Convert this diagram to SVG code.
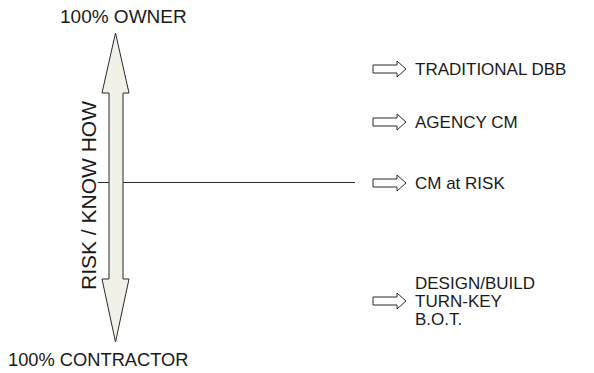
<svg xmlns="http://www.w3.org/2000/svg" width="594" height="373" viewBox="0 0 594 373">
<style>
text{font-family:"Liberation Sans",Arial,sans-serif;font-size:17px;fill:#1a1a1a}
.big{fill:#f1f1e8;stroke:#2a2a2a;stroke-width:1}
.sm{fill:#fff;stroke:#2a2a2a;stroke-width:1}
.ln{stroke:#2a2a2a;stroke-width:1.2;fill:none}
</style>
<defs>
<path id="harrow" d="M0,-4 H24 V-8 L33,0 L24,8 V4 H0 Z"/>
</defs>
<g id="connectors">
<line class="ln" x1="98" y1="182.5" x2="355" y2="182.5"/>
</g>
<g id="scale-arrow">
<polygon class="big" points="115.5,33 129,93 123,93 123,279 129,279 115.5,342 102,279 109,279 109,93 102,93"/>
</g>
<g id="label-owner"><text x="60" y="23" style="font-size:19px">100% OWNER</text></g>
<g id="label-contractor"><text x="8" y="366" style="font-size:18.3px">100% CONTRACTOR</text></g>
<g id="label-risk"><text transform="translate(96,290) rotate(-90)" style="font-size:21px">RISK / KNOW HOW</text></g>
<g id="node-dbb">
<use href="#harrow" class="sm" x="373" y="69"/>
<text x="415" y="75">TRADITIONAL DBB</text>
</g>
<g id="node-agency">
<use href="#harrow" class="sm" x="373" y="122"/>
<text x="415" y="128">AGENCY CM</text>
</g>
<g id="node-cmrisk">
<use href="#harrow" class="sm" x="373" y="183"/>
<text x="415" y="189">CM at RISK</text>
</g>
<g id="node-db">
<use href="#harrow" class="sm" x="373" y="301"/>
<text x="415" y="289">DESIGN/BUILD</text>
<text x="415" y="307">TURN-KEY</text>
<text x="415" y="325">B.O.T.</text>
</g>
</svg>
